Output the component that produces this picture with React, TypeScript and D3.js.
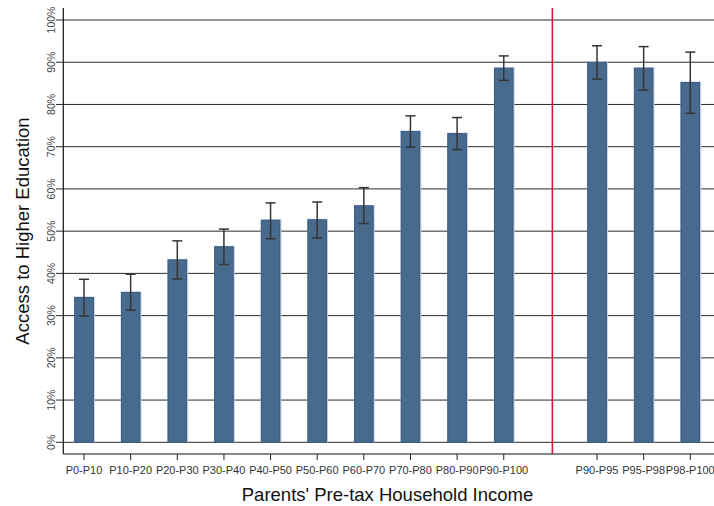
import React from "react";
import * as d3 from "d3";

const categories = ["P0-P10","P10-P20","P20-P30","P30-P40","P40-P50","P50-P60","P60-P70","P70-P80","P80-P90","P90-P100","","P90-P95","P95-P98","P98-P100"];
const values = [34.3,35.5,43.2,46.3,52.6,52.7,56.0,73.6,73.1,88.6,NaN,90.0,88.6,85.2];
const errLow = [29.9,31.3,38.7,42.1,48.2,48.4,51.8,69.9,69.3,85.7,NaN,86.0,83.4,77.9];
const errHigh = [38.6,39.8,47.7,50.5,56.7,56.9,60.3,77.3,76.9,91.5,NaN,93.9,93.7,92.4];
const yTicks = [0,10,20,30,40,50,60,70,80,90,100];
const separatorSlot = 10;

const W = 714, H = 506;
const font = "'Liberation Sans', Arial, Helvetica, sans-serif";

export default function App() {
  const slots = categories.map((_, i) => String(i));
  const x = d3.scaleBand<string>().domain(slots).range([60.7, 713.6]).paddingInner(0).paddingOuter(0);
  const y = d3.scaleLinear().domain([0, 100]).range([442.3, 20]);
  const barW = 18.7;
  const axisX = 63.3, axisY = 454, axisTop = 8;
  const cx = (i: number) => (x(String(i)) as number) + x.bandwidth() / 2;
  const sepX = cx(separatorSlot) + 2;

  return (
    <svg width={W} height={H} style={{ position: "absolute", left: 0, top: 0, background: "#fff" }} fontFamily={font}>
      {/* gridlines */}
      {yTicks.map((t) => (
        <g key={"g" + t}>
          <line x1={56} x2={W} y1={y(t)} y2={y(t)} stroke="#2b2b2b" strokeWidth={1} />
          <text
            transform={`translate(55,${y(t)}) rotate(-90)`}
            textAnchor="middle"
            fontSize={10.5}
            fill="#444"
          >{t + "%"}</text>
        </g>
      ))}
      {/* bars */}
      {values.map((v, i) => {
        if (isNaN(v)) return null;
        const c = cx(i);
        return (
          <g key={"b" + i}>
            <rect x={c - barW / 2 - 0.5} y={y(v) - 1} width={barW + 2} height={y(0) - y(v) + 1} fill="#c3cedb" />
            <rect x={c - barW / 2} y={y(v)} width={barW} height={y(0) - y(v)} fill="#486a8c" stroke="#2a5280" strokeWidth={0.8} />
          </g>
        );
      })}
      {/* error bars */}
      {values.map((v, i) => {
        if (isNaN(v)) return null;
        const c = cx(i);
        return (
          <g key={"e" + i} stroke="#353535" strokeWidth={1.5}>
            <line x1={c} x2={c} y1={y(errLow[i])} y2={y(errHigh[i])} />
            <line x1={c - 5} x2={c + 5} y1={y(errLow[i])} y2={y(errLow[i])} />
            <line x1={c - 5} x2={c + 5} y1={y(errHigh[i])} y2={y(errHigh[i])} />
          </g>
        );
      })}
      {/* axes */}
      <line x1={axisX} x2={axisX} y1={axisTop} y2={axisY} stroke="#111" strokeWidth={1.2} />
      <line x1={axisX} x2={W} y1={axisY} y2={axisY} stroke="#111" strokeWidth={1.2} />
      {categories.map((c, i) => c === "" ? null : (
        <g key={"t" + i}>
          <line x1={cx(i)} x2={cx(i)} y1={axisY} y2={axisY + 6} stroke="#222" strokeWidth={1} />
          <text x={cx(i)} y={474} textAnchor="middle" fontSize={11} fill="#333">{c}</text>
        </g>
      ))}
      {/* separator */}
      <line x1={sepX} x2={sepX} y1={axisTop} y2={axisY} stroke="#d81440" strokeWidth={1.6} />
      {/* titles */}
      <text x={387.5} y={501} textAnchor="middle" fontSize={18.5} fill="#111">Parents' Pre-tax Household Income</text>
      <text transform={`translate(29,${231}) rotate(-90)`} textAnchor="middle" fontSize={18.5} fill="#111">Access to Higher Education</text>
    </svg>
  );
}
